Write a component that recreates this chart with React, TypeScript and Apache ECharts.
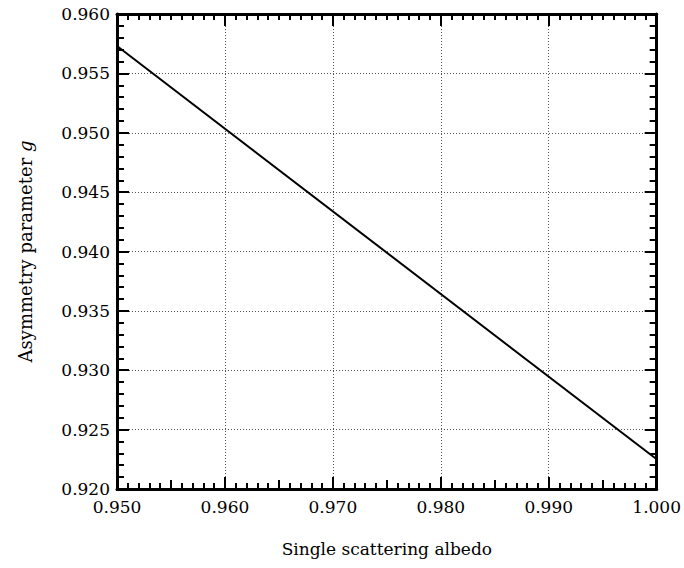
import React, { useEffect, useRef } from "react";
import * as echarts from "echarts";

const albedo = [0.95, 1.0];
const asymmetry = [0.9573, 0.9225];
const xLabel = "Single scattering albedo";
const yLabel = "Asymmetry parameter {i|g}";

export default function App() {
  const ref = useRef<HTMLDivElement>(null);
  useEffect(() => {
    const chart = echarts.init(ref.current!, null, { renderer: "svg" });
    const font = "DejaVu Serif";
    const axisLine = { show: true, onZero: false, lineStyle: { color: "#000", width: 3 } };
    const xBase = { type: "value", min: 0.95, max: 1.0, interval: 0.01 };
    const yBase = { type: "value", min: 0.92, max: 0.96, interval: 0.005 };
    chart.setOption({
      animation: false,
      backgroundColor: "#fff",
      grid: { left: 117, right: 23, top: 14, bottom: 79 },
      xAxis: [
        {
          ...xBase,
          position: "bottom",
          axisLine,
          axisTick: { show: true, inside: true, length: 12, lineStyle: { color: "#000", width: 2 } },
          minorTick: { show: true, splitNumber: 10, length: 6, lineStyle: { color: "#000", width: 2 } },
          axisLabel: { color: "#000", fontFamily: font, fontSize: 17, margin: 9, formatter: (v: number) => v.toFixed(3) },
          splitLine: { show: true, lineStyle: { color: "#555", type: [1, 2], width: 1 } },
          name: xLabel,
          nameLocation: "middle",
          nameGap: 51,
          nameTextStyle: { color: "#000", fontFamily: font, fontSize: 17 },
        },
        {
          ...xBase,
          position: "top",
          axisLine,
          axisTick: { show: true, inside: true, length: 12, lineStyle: { color: "#000", width: 2 } },
          minorTick: { show: true, splitNumber: 10, length: 6, lineStyle: { color: "#000", width: 2 } },
          axisLabel: { show: false },
          splitLine: { show: false },
        },
        {
          type: "value", min: 0.95, max: 1.0, interval: 0.005,
          position: "bottom",
          axisLine: { show: false },
          axisTick: { show: true, inside: true, length: 9, lineStyle: { color: "#000", width: 2 } },
          axisLabel: { show: false },
          splitLine: { show: false },
        },
      ],
      yAxis: [
        {
          ...yBase,
          position: "left",
          axisLine,
          axisTick: { show: true, inside: true, length: 12, lineStyle: { color: "#000", width: 2 } },
          minorTick: { show: true, splitNumber: 5, length: 7, lineStyle: { color: "#000", width: 2 } },
          axisLabel: { color: "#000", fontFamily: font, fontSize: 17, margin: 7, formatter: (v: number) => v.toFixed(3) },
          splitLine: { show: true, lineStyle: { color: "#555", type: [1, 2], width: 1 } },
          name: yLabel,
          nameLocation: "middle",
          nameGap: 83,
          nameRotate: 90,
          nameTextStyle: {
            color: "#000", fontFamily: font, fontSize: 18,
            rich: { i: { fontStyle: "italic", fontFamily: font, fontSize: 18, color: "#000" } },
          },
        },
        {
          ...yBase,
          position: "right",
          axisLine,
          axisTick: { show: true, inside: true, length: 12, lineStyle: { color: "#000", width: 2 } },
          minorTick: { show: true, splitNumber: 5, length: 7, lineStyle: { color: "#000", width: 2 } },
          axisLabel: { show: false },
          splitLine: { show: false },
        },
      ],
      series: [
        {
          type: "line",
          data: albedo.map((x, i) => [x, asymmetry[i]]),
          showSymbol: false,
          lineStyle: { color: "#000", width: 2 },
        },
      ],
    });
    return () => chart.dispose();
  }, []);
  return <div ref={ref} style={{ position: "absolute", left: 0, top: 0, width: 684, height: 568 }} />;
}
